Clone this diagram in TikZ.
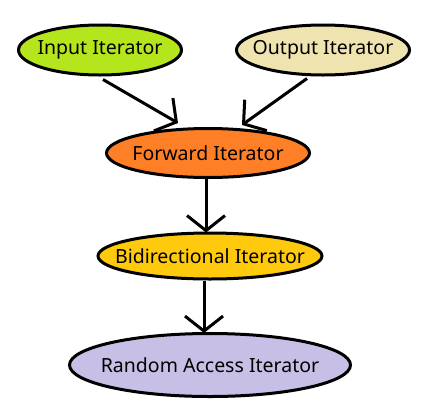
\documentclass[tikz,border=0pt]{standalone}
\usepackage{fontspec}
\setmainfont{Noto Sans}
\usetikzlibrary{shapes.geometric,arrows.meta}
\definecolor{cin}{HTML}{B5E61D}
\definecolor{cout}{HTML}{EFE4B0}
\definecolor{cfw}{HTML}{FF7F27}
\definecolor{cbi}{HTML}{FFC90E}
\definecolor{cra}{HTML}{C8BFE7}
\tikzset{
  it/.style={ellipse,draw=black,line width=3pt,inner xsep=-40pt,inner ysep=-20pt,font=\fontsize{19.5}{22}\selectfont,text=black},
  con/.style={line width=3pt,-{Straight Barb[length=15pt,width=38pt,line width=3pt]}}
}
\begin{document}
\begin{tikzpicture}
\useasboundingbox (0,0) rectangle (434pt,-416pt);
\node[it,fill=cin,minimum width=163pt,minimum height=50pt] (in) at (100pt,-50pt) {Input Iterator};
\node[it,fill=cout,minimum width=173pt,minimum height=50pt] (out) at (323pt,-50pt) {Output Iterator};
\node[it,fill=cfw,minimum width=203pt,minimum height=49pt] (fw) at (208pt,-153pt) {Forward Iterator};
\node[it,fill=cbi,minimum width=224pt,minimum height=46pt] (bi) at (210pt,-256pt) {Bidirectional Iterator};
\node[it,fill=cra,minimum width=281pt,minimum height=63pt] (ra) at (210pt,-365pt) {Random Access Iterator};
\draw[con] ([xshift=3pt,yshift=-3pt]in.south) -- ([xshift=-30pt,yshift=4pt]fw.north);
\draw[con] ([xshift=-16pt,yshift=-2pt]out.south) -- ([xshift=34pt,yshift=2pt]fw.north);
\draw[con] ([xshift=-2pt]fw.south) -- ([xshift=-4pt,yshift=-1pt]bi.north);
\draw[con] ([xshift=-6pt]bi.south) -- ([xshift=-6pt,yshift=-1pt]ra.north);
\end{tikzpicture}
\end{document}
